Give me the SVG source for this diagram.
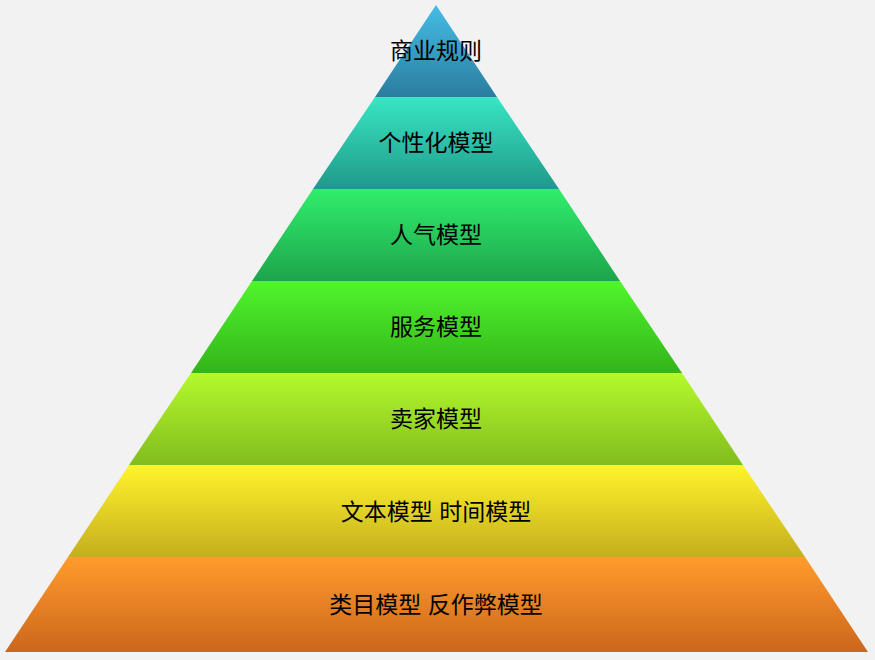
<svg xmlns="http://www.w3.org/2000/svg" width="875" height="660" viewBox="0 0 875 660">
<defs>
<linearGradient id="g1" x1="0" y1="0" x2="0" y2="1"><stop offset="0" stop-color="#45bde6"/><stop offset="1" stop-color="#2a7d9e"/></linearGradient>
<linearGradient id="g2" x1="0" y1="0" x2="0" y2="1"><stop offset="0" stop-color="#38e6c4"/><stop offset="1" stop-color="#20998a"/></linearGradient>
<linearGradient id="g3" x1="0" y1="0" x2="0" y2="1"><stop offset="0" stop-color="#30ee6c"/><stop offset="1" stop-color="#1ea44c"/></linearGradient>
<linearGradient id="g4" x1="0" y1="0" x2="0" y2="1"><stop offset="0" stop-color="#50f52c"/><stop offset="1" stop-color="#33b41a"/></linearGradient>
<linearGradient id="g5" x1="0" y1="0" x2="0" y2="1"><stop offset="0" stop-color="#b4fa2c"/><stop offset="1" stop-color="#82bc1e"/></linearGradient>
<linearGradient id="g6" x1="0" y1="0" x2="0" y2="1"><stop offset="0" stop-color="#fff42c"/><stop offset="1" stop-color="#c4ae1e"/></linearGradient>
<linearGradient id="g7" x1="0" y1="0" x2="0" y2="1"><stop offset="0" stop-color="#ff9c2c"/><stop offset="1" stop-color="#cc661c"/></linearGradient>
</defs>
<style>text{font-family:"Liberation Sans","Noto Sans CJK SC",sans-serif;font-size:23px;fill:#000;text-anchor:middle}</style>
<rect width="875" height="660" fill="#f2f2f2"/>
<g id="l1"><polygon points="436,5 497,97 375,97" fill="url(#g1)"/><text x="436" y="59">商业规则</text></g>
<g id="l2"><polygon points="375,97 497,97 559,189 313,189" fill="url(#g2)"/><text x="436" y="151">个性化模型</text></g>
<g id="l3"><polygon points="313,189 559,189 620,281 252,281" fill="url(#g3)"/><text x="436" y="243">人气模型</text></g>
<g id="l4"><polygon points="252,281 620,281 682,373 191,373" fill="url(#g4)"/><text x="436" y="335">服务模型</text></g>
<g id="l5"><polygon points="191,373 682,373 743,465 129,465" fill="url(#g5)"/><text x="436" y="427">卖家模型</text></g>
<g id="l6"><polygon points="129,465 743,465 805,557 68,557" fill="url(#g6)"/><text x="436" y="520">文本模型    时间模型</text></g>
<g id="l7"><polygon points="68,557 805,557 868,652 5,652" fill="url(#g7)"/><text x="436" y="613">类目模型    反作弊模型</text></g>
<g id="connectors"/>
</svg>
